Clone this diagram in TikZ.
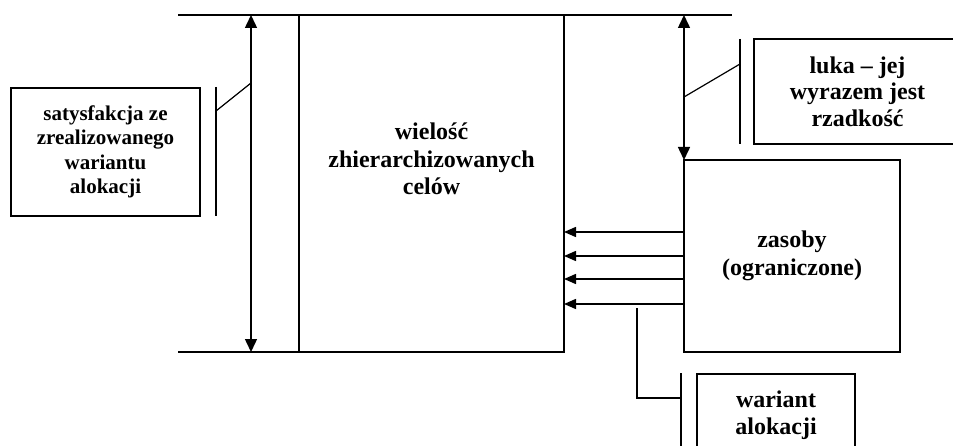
\documentclass[tikz,border=0pt]{standalone}
\usepackage{fontspec}
\setmainfont{Liberation Serif}
\usepackage{tikz}
\usetikzlibrary{arrows.meta,calc}

\begin{document}
\begin{tikzpicture}[
    x=1pt, y=1pt,
    bigbox/.style={rectangle, draw, line width=2.2pt, inner sep=0pt,
        outer sep=0pt},
    labelbox/.style={rectangle, draw, line width=1.4pt, inner sep=0pt,
        outer sep=0pt, align=center,
        font=\fontsize{24}{26.5}\selectfont\bfseries},
    txt/.style={align=center, inner sep=0pt,
        font=\fontsize{24}{27.6}\selectfont\bfseries},
    thin/.style={line width=1.2pt},
    dimarr/.style={{Triangle[length=13pt,width=12pt]}-{Triangle[length=13pt,width=12pt]},
        line width=1.5pt},
    arr/.style={-{Triangle[length=12pt,width=10pt]}, line width=1.5pt},
]
\useasboundingbox (0,0) rectangle (953,445);

% ── Main blocks ──
\node[bigbox, minimum width=265pt, minimum height=337pt] (cele)
    at (431.5,261.5) {};
\node[txt] (celetxt) at (431.5,286) {wielość\\zhierarchizowanych\\celów};
\node[bigbox, minimum width=216pt, minimum height=192pt, txt] (zasoby)
    at (792,189) {zasoby\\(ograniczone)};

% ── Reference lines ──
\coordinate (topL) at (178,430);
\coordinate (topR) at (732,430);
\coordinate (botL) at (178,93);
\draw[thin] (topL) -- (topR);
\draw[thin] (botL) -- (cele.south west);

% ── Distances ──
\coordinate (satA) at (251,430);
\coordinate (satB) at (251,93);
\draw[dimarr] (satA) -- (satB);
\draw[dimarr] (zasoby.north west |- topL) -- (zasoby.north west);

% ── Resource flows ──
\foreach \yy in {213,189,166,141}
    \draw[arr] (zasoby.west |- 0,\yy) -- (cele.east |- 0,\yy);

% ── Labels ──
\node[labelbox, minimum width=189pt, minimum height=128pt,
    font=\fontsize{21}{24.4}\selectfont\bfseries] (satysf)
    at (105.5,293) {satysfakcja ze\\zrealizowanego\\wariantu\\alokacji};
\draw[thin] (216,358) -- (216,229);
\draw[thin] (216,334) -- (251,362);

\node[labelbox, minimum width=207pt, minimum height=105pt] (luka)
    at (857.5,353.5) {luka -- jej\\wyrazem jest\\rzadkość};
\draw[thin] (740,406) -- (740,301);
\draw[thin] (684,348) -- (740,381);

\node[labelbox, minimum width=158pt, minimum height=82pt] (wariant)
    at (776,30) {wariant\\alokacji};
\draw[thin] (681,72) -- (681,-10);
\draw[thin] (637,137) -- (637,47) -- (681,47);

\end{tikzpicture}
\end{document}
